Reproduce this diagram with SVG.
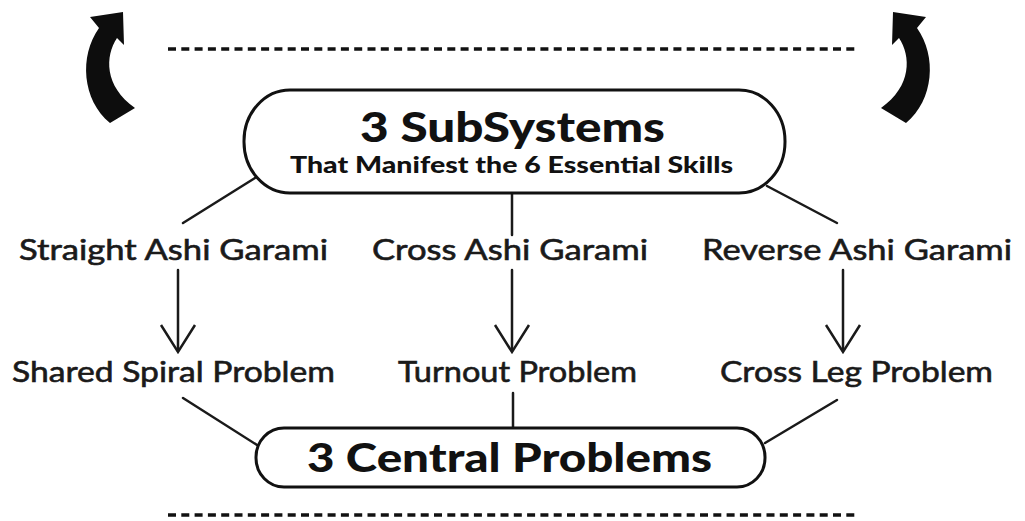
<svg xmlns="http://www.w3.org/2000/svg" width="1025" height="521" viewBox="0 0 1025 521">
<style>
.bg{fill:#ffffff}
.cap{fill:#ffffff;stroke:#111111;stroke-width:3}
.con{stroke:#1a1a1a;stroke-width:2.5;fill:none;stroke-linecap:round}
.head{fill:none;stroke:#1a1a1a;stroke-width:2.5;stroke-linejoin:miter}
.dots{stroke:#111111;stroke-width:3.5;stroke-dasharray:8 5.3;fill:none}
.lbl{font-family:Lato,"Open Sans","Liberation Sans",sans-serif;font-size:29px;fill:#1a1a1a;stroke:#1a1a1a;stroke-width:0.6}
.big{font-family:Lato,"Inter","Liberation Sans",sans-serif;font-weight:900;fill:#111111}
.arrowshape{fill:#0d0d0d}
</style>
<defs>
<path id="curl" d="M90,17 L123,12 L124,45 L117,38 C105,56 104,86 135,108 L110,123 C82,100 79,56 99,28 Z"/>
</defs>
<rect class="bg" x="0" y="0" width="1025" height="521"/>

<g id="dotted-lines">
<line class="dots" x1="168" y1="49" x2="856" y2="49"/>
<line class="dots" x1="168" y1="515" x2="856" y2="515"/>
</g>

<g id="curl-arrows">
<use href="#curl" class="arrowshape"/>
<use href="#curl" class="arrowshape" transform="translate(1016,0) scale(-1,1)"/>
</g>

<g id="connectors">
<line class="con" x1="255" y1="178" x2="183" y2="223"/>
<line class="con" x1="512" y1="193" x2="512" y2="235"/>
<line class="con" x1="767" y1="186" x2="837" y2="223"/>
<line class="con" x1="178" y1="270" x2="178" y2="351"/>
<polyline class="head" points="161,325 178,352 195,325"/>
<line class="con" x1="512" y1="270" x2="512" y2="351"/>
<polyline class="head" points="495,325 512,352 529,325"/>
<line class="con" x1="843" y1="270" x2="843" y2="351"/>
<polyline class="head" points="826,325 843,352 860,325"/>
<line class="con" x1="183" y1="398" x2="257" y2="445"/>
<line class="con" x1="513" y1="393" x2="513" y2="428"/>
<line class="con" x1="837" y1="400" x2="765" y2="443"/>
</g>

<g id="subsystems">
<rect class="cap" x="244" y="90" width="541" height="103" rx="46" ry="51"/>
<text class="big" x="360" y="142" font-size="41" textLength="305" lengthAdjust="spacingAndGlyphs">3 SubSystems</text>
<text class="big" x="290" y="173" font-size="22" textLength="443" lengthAdjust="spacingAndGlyphs">That Manifest the 6 Essential Skills</text>
</g>

<g id="straight-ashi">
<text class="lbl" x="19" y="260" textLength="309" lengthAdjust="spacingAndGlyphs">Straight Ashi Garami</text>
</g>
<g id="cross-ashi">
<text class="lbl" x="372" y="260" textLength="276" lengthAdjust="spacingAndGlyphs">Cross Ashi Garami</text>
</g>
<g id="reverse-ashi">
<text class="lbl" x="702" y="260" textLength="310" lengthAdjust="spacingAndGlyphs">Reverse Ashi Garami</text>
</g>

<g id="shared-spiral">
<text class="lbl" x="12" y="382" textLength="323" lengthAdjust="spacingAndGlyphs">Shared Spiral Problem</text>
</g>
<g id="turnout">
<text class="lbl" x="398" y="382" textLength="239" lengthAdjust="spacingAndGlyphs">Turnout Problem</text>
</g>
<g id="cross-leg">
<text class="lbl" x="720" y="382" textLength="273" lengthAdjust="spacingAndGlyphs">Cross Leg Problem</text>
</g>

<g id="central-problems">
<rect class="cap" x="256" y="428" width="509" height="59" rx="28" ry="29"/>
<text class="big" x="307" y="472" font-size="40" textLength="405" lengthAdjust="spacingAndGlyphs">3 Central Problems</text>
</g>
</svg>
